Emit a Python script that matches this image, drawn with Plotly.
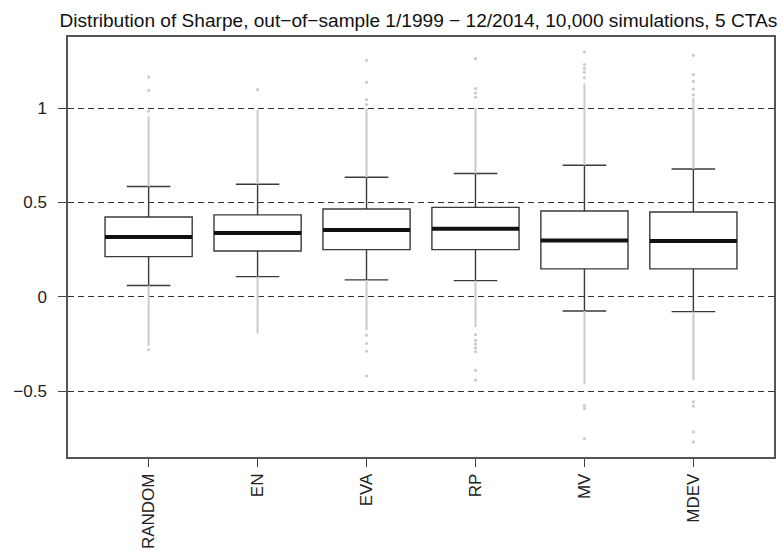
import plotly.graph_objects as go

categories = ["RANDOM", "EN", "EVA", "RP", "MV", "MDEV"]
lower_whisker = [0.060, 0.107, 0.090, 0.086, -0.075, -0.078]
q1 = [0.213, 0.243, 0.250, 0.250, 0.148, 0.148]
median = [0.317, 0.338, 0.354, 0.360, 0.298, 0.296]
q3 = [0.423, 0.434, 0.465, 0.474, 0.455, 0.449]
upper_whisker = [0.584, 0.596, 0.633, 0.653, 0.697, 0.677]
# dense runs of outliers (appear as solid grey lines)
dense_outlier_top = [0.955, 0.99, 1.00, 1.00, 1.13, 1.053]
dense_outlier_bottom = [-0.26, -0.194, -0.177, -0.16, -0.463, -0.441]
# isolated outliers
sparse_outliers = [
    [0.983, 1.094, 1.164, -0.28],
    [1.097],
    [1.018, 1.044, 1.136, 1.253, -0.203, -0.247, -0.288, -0.419],
    [1.057, 1.079, 1.103, 1.261, -0.20, -0.23, -0.25, -0.27, -0.29, -0.389, -0.441],
    [1.16, 1.19, 1.21, 1.23, 1.296, -0.574, -0.591, -0.750],
    [1.07, 1.10, 1.141, 1.177, 1.279, -0.556, -0.579, -0.715, -0.768],
]
y_ticks = [-0.5, 0, 0.5, 1]
y_ticktext = ["\u22120.5", "0", "0.5", "1"]
title_text = "Distribution of Sharpe, out\u2212of\u2212sample 1/1999 \u2212 12/2014, 10,000 simulations, 5 CTAs"

BOX_W = 0.8
positions = list(range(1, len(categories) + 1))
GREY = "#cbcbcb"
FONT = "Liberation Sans, Arial, sans-serif"

fig = go.Figure()

# dense outlier segments
seg_x, seg_y = [], []
for p, uw, lw, dt, db in zip(positions, upper_whisker, lower_whisker, dense_outlier_top, dense_outlier_bottom):
    seg_x += [p, p, None, p, p, None]
    seg_y += [uw, dt, None, lw, db, None]
fig.add_trace(go.Scatter(x=seg_x, y=seg_y, mode="lines",
                         line=dict(color=GREY, width=2), showlegend=False, hoverinfo="skip"))

# sparse outliers
ox, oy = [], []
for p, vals in zip(positions, sparse_outliers):
    ox += [p] * len(vals)
    oy += vals
fig.add_trace(go.Scatter(x=ox, y=oy, mode="markers",
                         marker=dict(color=GREY, size=3.2), showlegend=False, hoverinfo="skip"))

fig.add_trace(go.Box(
    x=positions, q1=q1, median=median, q3=q3,
    lowerfence=lower_whisker, upperfence=upper_whisker,
    width=BOX_W, whiskerwidth=0.5, fillcolor="white",
    line=dict(color="#3a3a3a", width=1.4), boxpoints=False, showlegend=False,
))

# thick medians
mx, my = [], []
for p, m in zip(positions, median):
    mx += [p - BOX_W / 2, p + BOX_W / 2, None]
    my += [m, m, None]
fig.add_trace(go.Scatter(x=mx, y=my, mode="lines",
                         line=dict(color="#111111", width=4), showlegend=False, hoverinfo="skip"))

fig.update_layout(
    width=782, height=558,
    margin=dict(l=68, r=6, t=37, b=101),
    paper_bgcolor="white", plot_bgcolor="white",
    font=dict(family=FONT, size=17, color="#222222"),
    title=dict(text=title_text, x=0.535, xanchor="center", y=1 - 20 / 558, yanchor="middle",
               yref="container", font=dict(family=FONT, size=19.1, color="#111111")),
)
fig.update_xaxes(
    range=[0.26, 6.74], tickmode="array", tickvals=positions, ticktext=categories,
    tickangle=-90, ticks="outside", ticklen=8, tickcolor="#444", tickwidth=1.3,
    showgrid=False, zeroline=False, showline=True, linecolor="#555", linewidth=1.5, mirror=True,
    tickfont=dict(size=17),
)
fig.update_yaxes(
    range=[-0.848, 1.376], tickmode="array", tickvals=y_ticks, ticktext=y_ticktext,
    ticks="outside", ticklen=8, tickcolor="#444", tickwidth=1.3,
    showgrid=True, gridcolor="#333333", griddash="6px,4px", gridwidth=1.4,
    zeroline=False, showline=True, linecolor="#555", linewidth=1.5, mirror=True,
    tickfont=dict(size=17), ticklabelstandoff=8,
)

fig.write_html(
    "out.html",
    config={"displayModeBar": False},
    post_script="document.body.style.margin='0';document.body.style.overflow='hidden';",
)
